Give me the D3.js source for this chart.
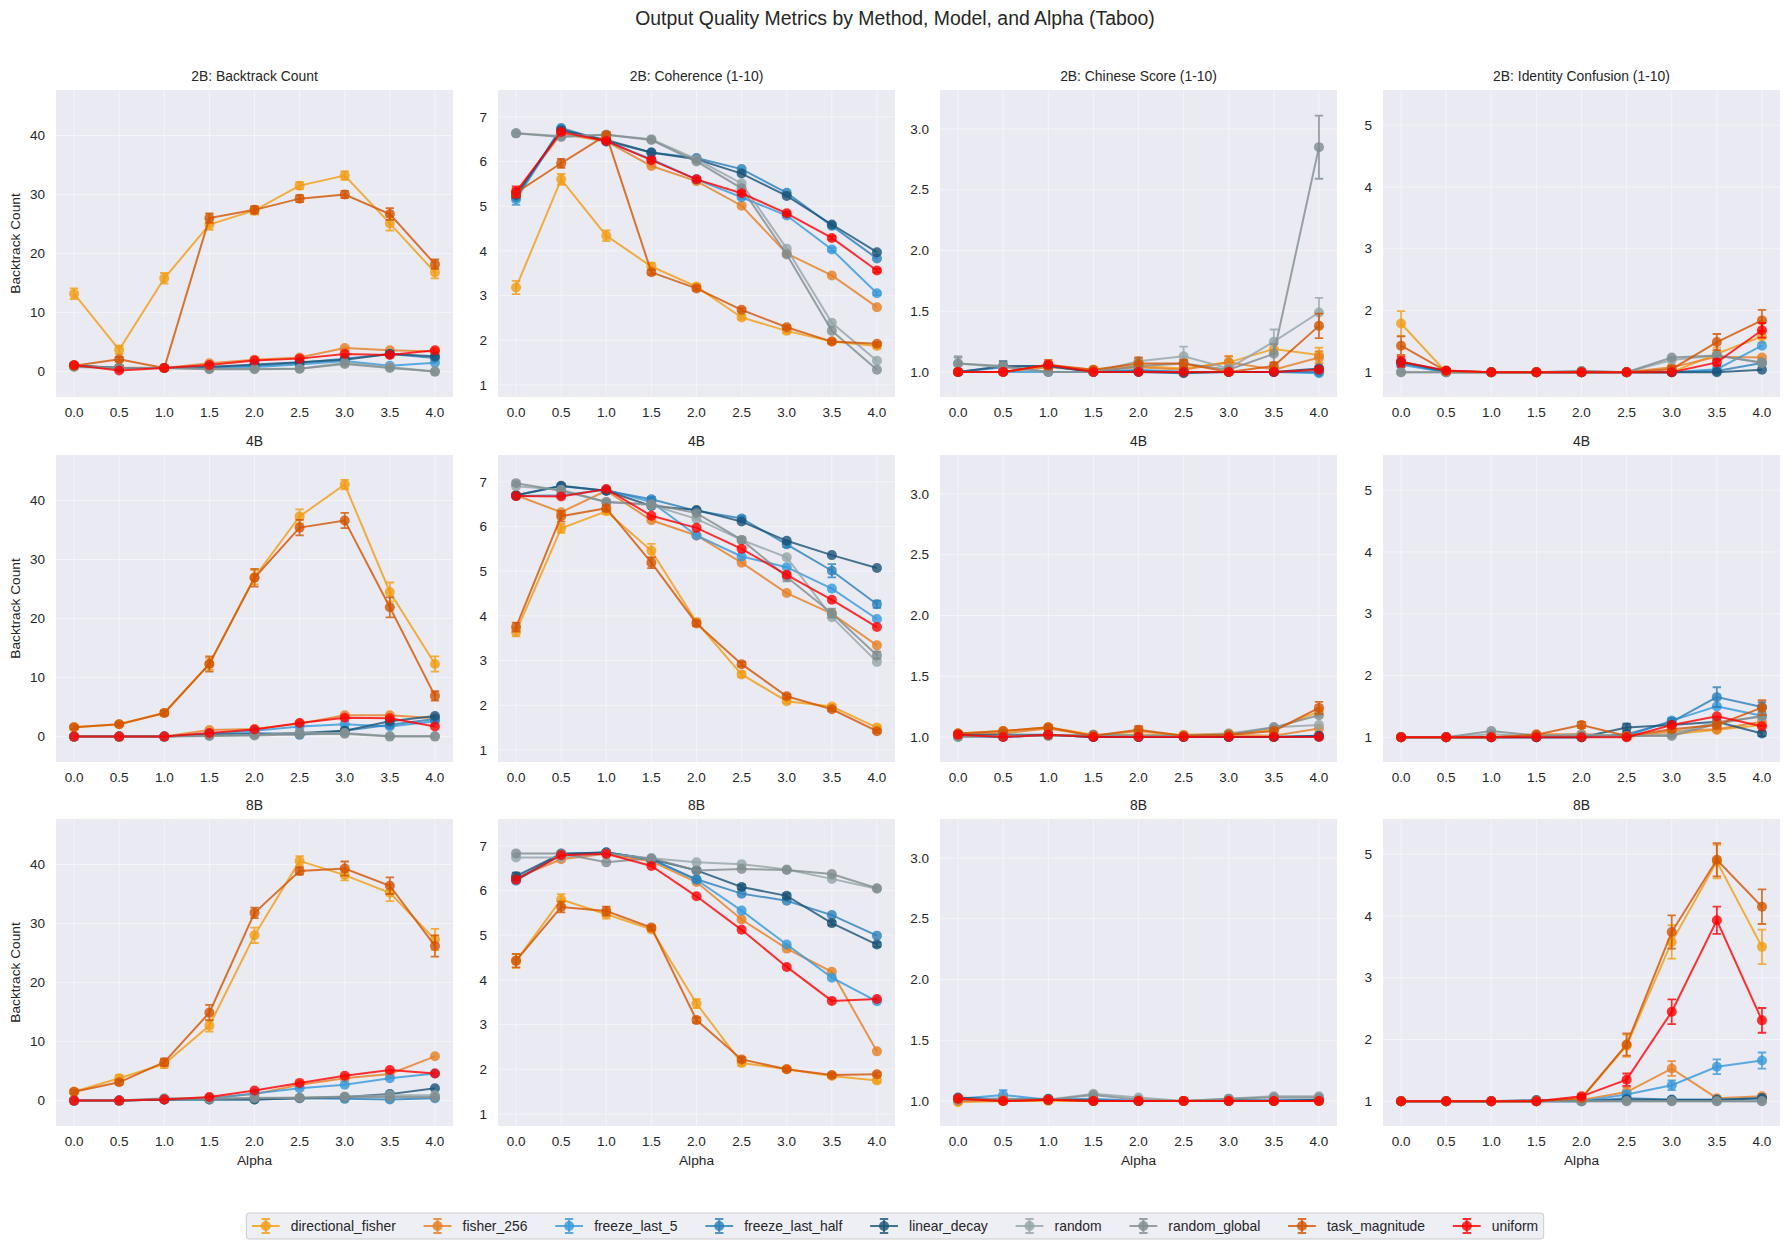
<!DOCTYPE html>
<html>
<head>
<meta charset="utf-8">
<script src="https://cdn.jsdelivr.net/npm/d3@7"></script>
<style>
  body { margin: 0; background: #fff; }
  text { font-family: "Liberation Sans", Arial, sans-serif; fill: #262626; }
</style>
</head>
<body>
<svg id="chart"></svg>
<script>
// ---- data ----
var alphas = [0, 0.5, 1.0, 1.5, 2.0, 2.5, 3.0, 3.5, 4.0];
var methods = ["directional_fisher", "fisher_256", "freeze_last_5", "freeze_last_half",
               "linear_decay", "random", "random_global", "task_magnitude", "uniform"];
var methodColors = ["#f39c12", "#e67e22", "#3498db", "#2980b9",
                    "#1a5276", "#95a5a6", "#7f8c8d", "#d35400", "#ff0000"];
var models = ["2B", "4B", "8B"];
var metricNames = ["Backtrack Count", "Coherence (1-10)", "Chinese Score (1-10)", "Identity Confusion (1-10)"];

// rows follow the order of `methods`
var backtrack2B = [
    [13.2, 3.7, 15.8, 24.9, 27.3, 31.5, 33.2, 25.1, 16.8],
    [1.0, 0.7, 0.6, 1.4, 2.0, 2.4, 4.0, 3.6, 3.4],
    [1.0, 0.6, 0.6, 0.6, 0.8, 1.2, 1.8, 1.0, 1.5],
    [1.0, 0.6, 0.6, 0.8, 1.0, 1.5, 2.2, 3.0, 2.3],
    [1.0, 0.6, 0.6, 0.8, 1.2, 1.6, 2.0, 3.0, 2.6],
    [0.9, 0.6, 0.6, 0.5, 0.5, 0.5, 1.5, 0.8, 0.0],
    [0.8, 0.6, 0.6, 0.4, 0.4, 0.5, 1.3, 0.6, 0.0],
    [1.0, 2.1, 0.6, 26.0, 27.4, 29.3, 30.0, 26.7, 18.2],
    [1.1, 0.2, 0.6, 1.1, 1.9, 2.2, 3.0, 2.8, 3.6]
];
var coherence2B = [
    [3.18, 5.60, 4.34, 3.65, 3.20, 2.51, 2.21, 1.97, 1.87],
    [5.30, 6.62, 6.45, 5.90, 5.56, 5.01, 3.94, 3.45, 2.74],
    [5.15, 6.72, 6.45, 6.05, 5.60, 5.20, 4.79, 4.03, 3.05],
    [5.20, 6.75, 6.45, 6.20, 6.08, 5.83, 5.30, 4.56, 3.83],
    [5.25, 6.70, 6.48, 6.20, 6.05, 5.73, 5.23, 4.59, 3.97],
    [6.63, 6.57, 6.60, 6.50, 6.05, 5.51, 4.05, 2.39, 1.54],
    [6.63, 6.55, 6.60, 6.48, 6.00, 5.40, 3.92, 2.21, 1.34],
    [5.30, 5.96, 6.59, 3.52, 3.16, 2.68, 2.29, 1.97, 1.92],
    [5.32, 6.66, 6.46, 6.03, 5.60, 5.29, 4.84, 4.29, 3.56]
];
var chinese2B = [
    [1.00, 1.00, 1.05, 1.02, 1.05, 1.03, 1.08, 1.19, 1.14],
    [1.00, 1.00, 1.04, 1.01, 1.04, 1.02, 1.08, 1.02, 1.12],
    [1.00, 1.00, 1.00, 1.00, 1.02, 1.00, 1.00, 1.00, 0.99],
    [1.00, 1.04, 1.05, 1.00, 1.01, 1.00, 1.00, 1.00, 1.00],
    [1.00, 1.05, 1.05, 1.00, 1.00, 0.99, 1.00, 1.00, 1.03],
    [1.07, 1.04, 1.00, 1.00, 1.09, 1.13, 1.03, 1.25, 1.49],
    [1.07, 1.05, 1.00, 1.00, 1.05, 1.07, 1.02, 1.15, 2.85],
    [1.00, 1.00, 1.06, 1.02, 1.07, 1.07, 1.00, 1.05, 1.38],
    [1.00, 1.00, 1.06, 1.00, 1.00, 1.00, 1.00, 1.00, 1.02]
];
var identity2B = [
    [1.79, 1.00, 1.00, 1.00, 1.00, 1.00, 1.00, 1.30, 1.58],
    [1.15, 1.02, 1.00, 1.00, 1.00, 1.00, 1.08, 1.25, 1.24],
    [1.12, 1.00, 1.00, 1.00, 1.00, 1.00, 1.00, 1.05, 1.43],
    [1.15, 1.00, 1.00, 1.00, 1.00, 1.00, 1.00, 1.02, 1.15],
    [1.17, 1.02, 1.00, 1.00, 1.00, 1.00, 1.00, 1.00, 1.04],
    [1.00, 1.00, 1.00, 1.00, 1.02, 1.00, 1.20, 1.27, 1.15],
    [1.00, 1.00, 1.00, 1.00, 1.02, 1.00, 1.24, 1.27, 1.16],
    [1.43, 1.02, 1.00, 1.00, 1.00, 1.00, 1.05, 1.49, 1.84],
    [1.17, 1.03, 1.00, 1.00, 1.00, 1.00, 1.00, 1.16, 1.68]
];

var backtrack4B = [
    [1.6, 2.1, 4.0, 12.3, 27.0, 37.3, 42.7, 24.5, 12.3],
    [0.0, 0.0, 0.0, 1.1, 1.3, 2.2, 3.6, 3.6, 3.1],
    [0.0, 0.0, 0.0, 0.5, 1.0, 1.7, 2.1, 1.7, 2.6],
    [0.0, 0.0, 0.0, 0.3, 0.6, 0.3, 1.0, 2.0, 3.0],
    [0.0, 0.0, 0.0, 0.3, 0.4, 0.6, 1.0, 2.6, 3.5],
    [0.0, 0.0, 0.0, 0.2, 0.3, 0.6, 0.6, 0.1, 0.1],
    [0.0, 0.0, 0.0, 0.1, 0.2, 0.4, 0.5, 0.0, 0.0],
    [1.6, 2.1, 4.0, 12.3, 26.9, 35.4, 36.6, 21.9, 6.9],
    [0.0, 0.0, 0.0, 0.6, 1.2, 2.3, 3.2, 3.1, 1.7]
];
var coherence4B = [
    [3.64, 5.96, 6.34, 5.46, 3.86, 2.69, 2.09, 1.97, 1.50],
    [6.70, 6.32, 6.80, 6.14, 5.80, 5.19, 4.51, 4.05, 3.34],
    [6.68, 6.70, 6.82, 6.55, 5.80, 5.33, 5.09, 4.61, 3.93],
    [6.70, 6.90, 6.80, 6.61, 6.35, 6.18, 5.60, 5.01, 4.26],
    [6.70, 6.91, 6.80, 6.46, 6.37, 6.11, 5.68, 5.36, 5.07],
    [6.90, 6.82, 6.55, 6.48, 6.17, 5.70, 5.31, 3.97, 2.97],
    [6.97, 6.80, 6.55, 6.50, 6.30, 5.70, 4.87, 4.06, 3.12],
    [3.75, 6.23, 6.41, 5.19, 3.83, 2.92, 2.20, 1.91, 1.42],
    [6.68, 6.67, 6.84, 6.24, 5.97, 5.50, 4.92, 4.36, 3.75]
];
var chinese4B = [
    [1.03, 1.05, 1.08, 1.02, 1.02, 1.02, 1.03, 1.06, 1.21],
    [1.03, 1.03, 1.07, 1.01, 1.05, 1.01, 1.02, 1.01, 1.07],
    [1.01, 1.00, 1.02, 1.00, 1.00, 1.00, 1.00, 1.00, 1.00],
    [1.01, 1.00, 1.02, 1.00, 1.00, 1.00, 1.00, 1.00, 1.01],
    [1.02, 1.02, 1.02, 1.00, 1.00, 1.00, 1.00, 1.00, 1.01],
    [1.00, 1.01, 1.01, 1.02, 1.01, 1.01, 1.03, 1.08, 1.10],
    [1.00, 1.01, 1.01, 1.02, 1.01, 1.01, 1.02, 1.08, 1.18],
    [1.03, 1.05, 1.08, 1.01, 1.06, 1.01, 1.02, 1.05, 1.24],
    [1.02, 1.00, 1.02, 1.00, 1.00, 1.00, 1.00, 1.00, 1.00]
];
var identity4B = [
    [1.00, 1.00, 1.00, 1.02, 1.05, 1.02, 1.05, 1.12, 1.20],
    [1.00, 1.00, 1.00, 1.05, 1.05, 1.00, 1.10, 1.13, 1.25],
    [1.00, 1.00, 1.00, 1.00, 1.00, 1.02, 1.27, 1.50, 1.35],
    [1.00, 1.00, 1.00, 1.00, 1.00, 1.05, 1.25, 1.65, 1.49],
    [1.00, 1.00, 1.00, 1.00, 1.00, 1.16, 1.20, 1.25, 1.06],
    [1.00, 1.00, 1.05, 1.02, 1.05, 1.02, 1.05, 1.25, 1.33],
    [1.00, 1.00, 1.10, 1.03, 1.02, 1.02, 1.02, 1.22, 1.35],
    [1.00, 1.00, 1.00, 1.04, 1.20, 1.02, 1.13, 1.20, 1.48],
    [1.00, 1.00, 1.00, 1.00, 1.00, 1.00, 1.20, 1.34, 1.18]
];

var backtrack8B = [
    [1.5, 3.8, 6.2, 12.7, 28.0, 40.6, 38.2, 35.2, 27.3],
    [0.0, 0.0, 0.2, 0.5, 1.1, 2.7, 3.8, 4.5, 7.5],
    [0.0, 0.0, 0.2, 0.3, 1.2, 2.1, 2.7, 3.8, 4.6],
    [0.0, 0.0, 0.2, 0.2, 0.2, 0.4, 0.3, 0.2, 0.4],
    [0.0, 0.0, 0.2, 0.2, 0.2, 0.4, 0.6, 1.1, 2.1],
    [0.0, 0.0, 0.4, 0.3, 0.5, 0.5, 0.7, 0.9, 0.9],
    [0.0, 0.0, 0.3, 0.3, 0.4, 0.5, 0.6, 0.6, 0.6],
    [1.5, 3.1, 6.5, 14.9, 31.8, 38.9, 39.3, 36.4, 26.2],
    [0.0, 0.0, 0.2, 0.6, 1.7, 3.0, 4.2, 5.2, 4.6]
];
var coherence8B = [
    [4.42, 5.80, 5.47, 5.13, 3.47, 2.14, 2.00, 1.85, 1.75],
    [6.28, 6.70, 6.82, 6.65, 6.19, 5.35, 4.70, 4.18, 2.40],
    [6.22, 6.80, 6.85, 6.70, 6.24, 5.55, 4.79, 4.05, 3.52],
    [6.25, 6.82, 6.85, 6.70, 6.25, 5.93, 5.77, 5.45, 4.99],
    [6.32, 6.82, 6.85, 6.70, 6.45, 6.08, 5.88, 5.27, 4.79],
    [6.74, 6.74, 6.83, 6.72, 6.63, 6.59, 6.47, 6.26, 6.04],
    [6.83, 6.83, 6.63, 6.72, 6.45, 6.48, 6.46, 6.37, 6.05],
    [4.43, 5.63, 5.54, 5.17, 3.10, 2.22, 2.00, 1.87, 1.89],
    [6.24, 6.79, 6.82, 6.55, 5.87, 5.12, 4.29, 3.53, 3.57]
];
var chinese8B = [
    [0.99, 1.00, 1.00, 1.00, 1.00, 1.00, 1.00, 1.00, 1.00],
    [1.00, 1.00, 1.01, 1.00, 1.00, 1.00, 1.00, 1.00, 1.00],
    [1.02, 1.05, 1.01, 1.02, 1.00, 1.00, 1.00, 1.01, 1.01],
    [1.02, 1.02, 1.01, 1.01, 1.00, 1.00, 1.00, 1.00, 1.01],
    [1.03, 1.01, 1.02, 1.00, 1.00, 1.00, 1.01, 1.00, 1.01],
    [1.01, 1.02, 1.01, 1.06, 1.03, 1.00, 1.02, 1.04, 1.04],
    [1.01, 1.01, 1.01, 1.05, 1.01, 1.00, 1.02, 1.03, 1.03],
    [1.02, 1.00, 1.01, 1.00, 1.00, 1.00, 1.00, 1.00, 1.00],
    [1.02, 1.00, 1.01, 1.00, 1.00, 1.00, 1.00, 1.00, 1.00]
];
var identity8B = [
    [1.00, 1.00, 1.00, 1.00, 1.05, 1.90, 3.58, 4.88, 3.50],
    [1.00, 1.00, 1.00, 1.00, 1.02, 1.15, 1.53, 1.05, 1.08],
    [1.00, 1.00, 1.00, 1.00, 1.00, 1.11, 1.26, 1.56, 1.66],
    [1.00, 1.00, 1.00, 1.00, 1.00, 1.05, 1.03, 1.03, 1.05],
    [1.00, 1.00, 1.00, 1.02, 1.00, 1.03, 1.02, 1.02, 1.05],
    [1.00, 1.00, 1.00, 1.00, 1.00, 1.00, 1.00, 1.00, 1.00],
    [1.00, 1.00, 1.00, 1.00, 1.00, 1.00, 1.00, 1.00, 1.00],
    [1.00, 1.00, 1.00, 1.00, 1.05, 1.92, 3.74, 4.91, 4.15],
    [1.00, 1.00, 1.00, 1.00, 1.08, 1.35, 2.45, 3.93, 2.31]
];

// standard errors, only where they show past the markers
var backtrack2BErr = {
    directional_fisher: [0.9, 0.7, 0.9, 0.9, 0.7, 0.6, 0.7, 1.2, 1.0],
    task_magnitude: [0.3, 0.4, 0.2, 0.8, 0.6, 0.6, 0.6, 1.0, 0.8]
};
var coherence2BErr = {
    directional_fisher: [0.15, 0.12, 0.12, 0.08, 0.06, 0.05, 0.05, 0.05, 0.05],
    task_magnitude: [0.10, 0.10, 0.06, 0.05, 0.05, 0.04, 0.04, 0.04, 0.04],
    freeze_last_5: [0.12, 0.05, 0.04, 0.04, 0.04, 0.04, 0.04, 0.04, 0.04],
    uniform: [0.12, 0.05, 0.04, 0.04, 0.04, 0.04, 0.04, 0.04, 0.04]
};
var chinese2BErr = {
    directional_fisher: [0, 0, 0.04, 0, 0.02, 0.02, 0.05, 0.04, 0.06],
    fisher_256: [0, 0, 0.03, 0, 0.02, 0.02, 0.05, 0.02, 0.05],
    linear_decay: [0, 0.04, 0.03, 0, 0, 0, 0, 0, 0.02],
    random: [0.06, 0.03, 0, 0, 0.02, 0.08, 0.02, 0.10, 0.12],
    random_global: [0.05, 0.03, 0, 0, 0.02, 0.03, 0.02, 0.08, 0.26],
    task_magnitude: [0, 0, 0.04, 0, 0.05, 0.03, 0, 0.03, 0.10]
};
var identity2BErr = {
    directional_fisher: [0.20, 0.02, 0, 0, 0, 0, 0.03, 0.10, 0.10],
    task_magnitude: [0.15, 0.02, 0, 0, 0, 0, 0.05, 0.13, 0.17],
    uniform: [0.08, 0.02, 0, 0, 0, 0, 0, 0.05, 0.12]
};
var backtrack4BErr = {
    directional_fisher: [0.3, 0.3, 0.4, 1.0, 1.2, 1.2, 0.8, 1.6, 1.3],
    task_magnitude: [0.3, 0.3, 0.4, 1.3, 1.5, 1.3, 1.3, 1.7, 0.8]
};
var coherence4BErr = {
    directional_fisher: [0.10, 0.10, 0.06, 0.15, 0.08, 0.06, 0.05, 0.05, 0.05],
    task_magnitude: [0.10, 0.12, 0.06, 0.12, 0.06, 0.05, 0.04, 0.04, 0.04],
    freeze_last_half: [0.05, 0.04, 0.04, 0.05, 0.05, 0.05, 0.06, 0.15, 0.08],
    random_global: [0.04, 0.04, 0.04, 0.05, 0.05, 0.05, 0.10, 0.10, 0.08]
};
var chinese4BErr = {
    task_magnitude: [0, 0, 0.02, 0, 0.03, 0, 0, 0.02, 0.05]
};
var identity4BErr = {
    freeze_last_half: [0, 0, 0, 0, 0, 0.03, 0.06, 0.16, 0.08],
    linear_decay: [0, 0, 0, 0, 0, 0.06, 0.04, 0.05, 0.04],
    task_magnitude: [0, 0, 0, 0.03, 0.05, 0.03, 0.05, 0.06, 0.12]
};
var backtrack8BErr = {
    directional_fisher: [0.3, 0.5, 0.7, 1.0, 1.3, 0.8, 0.9, 1.4, 1.8],
    task_magnitude: [0.3, 0.4, 0.6, 1.3, 0.9, 0.6, 1.2, 1.4, 1.8]
};
var coherence8BErr = {
    directional_fisher: [0.15, 0.12, 0.10, 0.05, 0.10, 0.06, 0.05, 0.04, 0.05],
    task_magnitude: [0.15, 0.12, 0.10, 0.05, 0.06, 0.05, 0.04, 0.04, 0.04],
    linear_decay: [0.08, 0.04, 0.04, 0.04, 0.04, 0.05, 0.05, 0.05, 0.05]
};
var chinese8BErr = {
    freeze_last_5: [0, 0.04, 0, 0, 0, 0, 0, 0, 0]
};
var identity8BErr = {
    directional_fisher: [0, 0, 0, 0, 0.03, 0.18, 0.27, 0.27, 0.28],
    fisher_256: [0, 0, 0, 0, 0.02, 0.08, 0.12, 0.03, 0.04],
    freeze_last_5: [0, 0, 0, 0, 0, 0.05, 0.08, 0.12, 0.13],
    task_magnitude: [0, 0, 0, 0, 0.03, 0.18, 0.27, 0.27, 0.28],
    uniform: [0, 0, 0, 0, 0.03, 0.10, 0.20, 0.22, 0.20]
};

var panelValues = [
    [backtrack2B, coherence2B, chinese2B, identity2B],
    [backtrack4B, coherence4B, chinese4B, identity4B],
    [backtrack8B, coherence8B, chinese8B, identity8B]
];
var panelErrors = [
    [backtrack2BErr, coherence2BErr, chinese2BErr, identity2BErr],
    [backtrack4BErr, coherence4BErr, chinese4BErr, identity4BErr],
    [backtrack8BErr, coherence8BErr, chinese8BErr, identity8BErr]
];

// axis settings per column (y shared down each column)
var yDomains = [[-4.3, 47.7], [0.73, 7.6], [0.795, 3.32], [0.6, 5.57]];
var yTicks = [[0, 10, 20, 30, 40], [1, 2, 3, 4, 5, 6, 7], [1.0, 1.5, 2.0, 2.5, 3.0], [1, 2, 3, 4, 5]];
var yFormats = [d3.format("d"), d3.format("d"), d3.format(".1f"), d3.format("d")];

// ---- layout ----
var W = 1790, H = 1249;
var colLeft = [56, 498, 940, 1383];
var rowTop = [90, 455, 819];
var pw = 397, ph = 307;
var opacity = 0.8;
var markerR = 5;
var capHalf = 4.2;

var svg = d3.select("#chart").attr("width", W).attr("height", H);

svg.append("text")
    .attr("x", W / 2)
    .attr("y", 25)
    .attr("text-anchor", "middle")
    .attr("font-size", "19.4px")
    .text("Output Quality Metrics by Method, Model, and Alpha (Taboo)");

var x = d3.scaleLinear().domain([-0.2, 4.2]).range([0, pw]);
var line = d3.line();

models.forEach(function (model, r) {
    metricNames.forEach(function (metric, c) {
        var y = d3.scaleLinear().domain(yDomains[c]).range([ph, 0]);
        var g = svg.append("g")
            .attr("transform", "translate(" + colLeft[c] + "," + rowTop[r] + ")");

        g.append("rect")
            .attr("width", pw)
            .attr("height", ph)
            .attr("fill", "#eaeaf2");

        // grid
        g.selectAll(".vgrid")
            .data(alphas)
            .enter().append("line")
            .attr("x1", function (d) { return x(d); })
            .attr("x2", function (d) { return x(d); })
            .attr("y1", 0).attr("y2", ph)
            .attr("stroke", "#fff").attr("stroke-opacity", 0.45).attr("stroke-width", 1);
        g.selectAll(".hgrid")
            .data(yTicks[c])
            .enter().append("line")
            .attr("x1", 0).attr("x2", pw)
            .attr("y1", function (d) { return y(d); })
            .attr("y2", function (d) { return y(d); })
            .attr("stroke", "#fff").attr("stroke-opacity", 0.45).attr("stroke-width", 1);

        // tick labels
        g.selectAll(".xt")
            .data(alphas)
            .enter().append("text")
            .attr("x", function (d) { return x(d); })
            .attr("y", ph + 20)
            .attr("text-anchor", "middle")
            .attr("font-size", "13.5px")
            .text(function (d) { return d.toFixed(1); });
        g.selectAll(".yt")
            .data(yTicks[c])
            .enter().append("text")
            .attr("x", -11)
            .attr("y", function (d) { return y(d); })
            .attr("dy", "0.35em")
            .attr("text-anchor", "end")
            .attr("font-size", "13.5px")
            .text(yFormats[c]);

        // title
        g.append("text")
            .attr("x", pw / 2)
            .attr("y", -9)
            .attr("text-anchor", "middle")
            .attr("font-size", "13.9px")
            .text(r === 0 ? model + ": " + metric : model);

        if (c === 0) {
            g.append("text")
                .attr("transform", "translate(" + (15 - colLeft[0]) + "," + (ph / 2) + ")rotate(-90)")
                .attr("dy", "0.35em")
                .attr("text-anchor", "middle")
                .attr("font-size", "13.7px")
                .text("Backtrack Count");
        }
        if (r === 2) {
            g.append("text")
                .attr("x", pw / 2)
                .attr("y", ph + 39)
                .attr("text-anchor", "middle")
                .attr("font-size", "13.7px")
                .text("Alpha");
        }

        var values = panelValues[r][c];
        var errs = panelErrors[r][c];

        methods.forEach(function (m, i) {
            var color = methodColors[i];
            var pts = alphas.map(function (a, k) { return [a, values[i][k]]; });
            var series = g.append("g");

            var e = errs[m];
            if (e) {
                var eb = pts.map(function (p, k) { return { a: p[0], v: p[1], e: e[k] }; })
                    .filter(function (d) { return d.e > 0; });
                series.selectAll(".eb")
                    .data(eb)
                    .enter().append("path")
                    .attr("d", function (d) {
                        var cx = x(d.a), y0 = y(d.v - d.e), y1 = y(d.v + d.e);
                        return "M" + cx + "," + y0 + "V" + y1 +
                            "M" + (cx - capHalf) + "," + y0 + "H" + (cx + capHalf) +
                            "M" + (cx - capHalf) + "," + y1 + "H" + (cx + capHalf);
                    })
                    .attr("fill", "none")
                    .attr("stroke", color)
                    .attr("stroke-opacity", opacity)
                    .attr("stroke-width", 1.8);
            }

            series.append("path")
                .attr("d", line(pts.map(function (p) { return [x(p[0]), y(p[1])]; })))
                .attr("fill", "none")
                .attr("stroke", color)
                .attr("stroke-opacity", opacity)
                .attr("stroke-width", 2);

            series.selectAll("circle")
                .data(pts)
                .enter().append("circle")
                .attr("cx", function (p) { return x(p[0]); })
                .attr("cy", function (p) { return y(p[1]); })
                .attr("r", markerR)
                .attr("fill", color)
                .attr("fill-opacity", opacity);
        });
    });
});

// ---- legend ----
var fs = 13.9;
var legend = svg.append("g");
var items = legend.selectAll(".item")
    .data(methods)
    .enter().append("g");
var labels = items.append("text")
    .attr("font-size", fs + "px")
    .attr("dy", "0.35em")
    .text(function (d) { return d; });

var widths = [];
labels.each(function () { widths.push(this.getComputedTextLength()); });
var handleLen = 2 * fs, textPad = 0.8 * fs, colSpace = 2 * fs, border = 0.4 * fs;
var total = 2 * border + d3.sum(widths) + methods.length * (handleLen + textPad) + (methods.length - 1) * colSpace;
var lx = W / 2 - total / 2, ly = 1226, lh = 26;

legend.insert("rect", ":first-child")
    .attr("x", lx)
    .attr("y", ly - lh / 2)
    .attr("width", total)
    .attr("height", lh)
    .attr("rx", 3)
    .attr("fill", "#eeeef5")
    .attr("stroke", "#cccccc")
    .attr("stroke-width", 1);

var cursor = lx + border;
items.each(function (d, i) {
    var it = d3.select(this);
    var hx = cursor, color = methodColors[i], cx = hx + handleLen / 2;
    it.insert("path", "text")
        .attr("d", "M" + hx + "," + ly + "H" + (hx + handleLen) +
            "M" + cx + "," + (ly - 7) + "V" + (ly + 7) +
            "M" + (cx - capHalf) + "," + (ly - 7) + "H" + (cx + capHalf) +
            "M" + (cx - capHalf) + "," + (ly + 7) + "H" + (cx + capHalf))
        .attr("fill", "none")
        .attr("stroke", color)
        .attr("stroke-opacity", opacity)
        .attr("stroke-width", 2);
    it.insert("circle", "text")
        .attr("cx", cx)
        .attr("cy", ly)
        .attr("r", markerR)
        .attr("fill", color)
        .attr("fill-opacity", opacity);
    it.select("text")
        .attr("x", hx + handleLen + textPad)
        .attr("y", ly);
    cursor += handleLen + textPad + widths[i] + colSpace;
});
</script>
</body>
</html>
